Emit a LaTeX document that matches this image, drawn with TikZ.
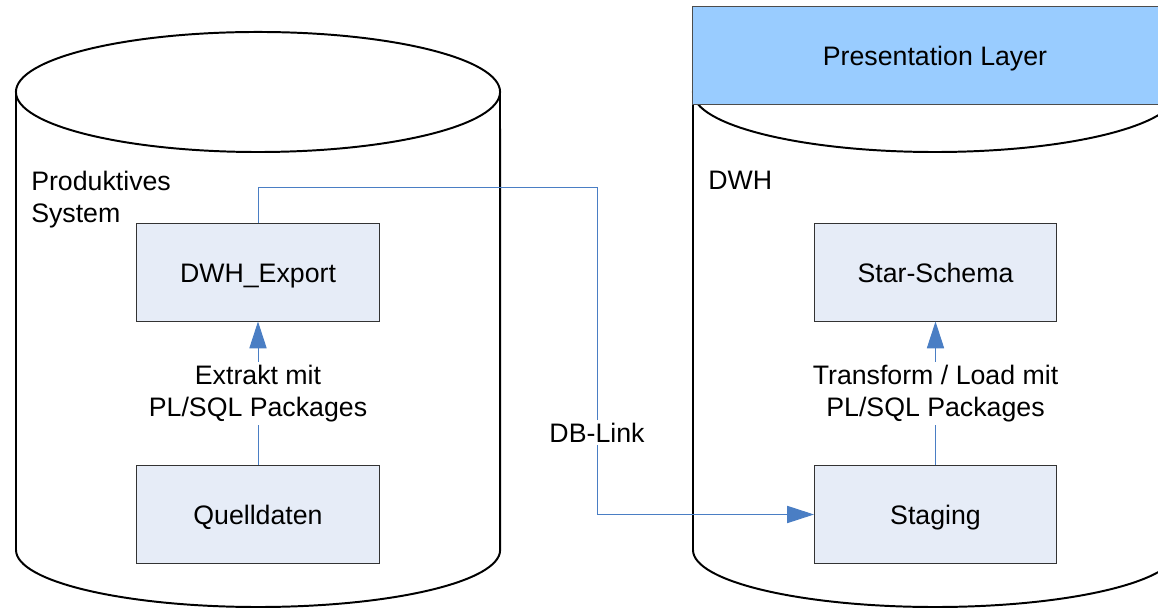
\documentclass[tikz,border=0pt]{standalone}
\usepackage{fontspec}
\setmainfont{Liberation Sans}
\usepackage{xcolor}
\usepackage{tikz}
\usetikzlibrary{arrows.meta}

\definecolor{boxfill}{RGB}{230,236,247}
\definecolor{layerfill}{RGB}{153,204,255}
\definecolor{linkblue}{RGB}{74,126,196}

\begin{document}
\begin{tikzpicture}[
    x=0.025cm, y=0.025cm,
    font=\fontsize{19}{22.8}\selectfont,
    drum/.style={draw=black, line width=1.4pt, fill=white},
    box/.style={rectangle, draw=black!80, line width=0.7pt, fill=boxfill, minimum width=6.05cm, minimum height=2.425cm, inner sep=0pt, text height=13.6pt, text depth=0pt},
    layer/.style={rectangle, draw=black!70, line width=0.7pt, fill=layerfill, minimum width=12.1cm, minimum height=2.425cm, inner sep=0pt, text height=13.6pt, text depth=0pt},
    arrow/.style={-{Triangle[length=6.7mm, width=4.3mm]}, linkblue, line width=0.7pt},
    lbl/.style={fill=white, inner sep=2pt, align=center, text=black},
    title/.style={align=left, inner sep=0pt}
  ]
    \useasboundingbox (0,0) rectangle (1158,610);
    \clip (0,0) rectangle (1158,610);

    % --- PRODUCTIVE SYSTEM ---
    \draw[drum] (16,518) -- (16,60) arc[start angle=180, end angle=360, x radius=6.05cm, y radius=1.425cm] -- (500,518);
    \draw[drum] (258,518) ellipse[x radius=6.05cm, y radius=1.5cm];
    \node[title, anchor=north west] (prodlbl) at (31,439) {Produktives\\ System};

    \node[box] (export) at (258,337.5) {DWH\_Export};
    \node[box] (quell) at (258,95.5) {Quelldaten};

    \draw[arrow] (quell) -- node[lbl] {Extrakt mit\\ PL/SQL Packages} (export);

    % --- DATA WAREHOUSE ---
    \draw[drum] (693,518) -- (693,60) arc[start angle=180, end angle=360, x radius=6.05cm, y radius=1.425cm] -- (1177,518);
    \draw[drum] (935,518) ellipse[x radius=6.05cm, y radius=1.5cm];
    \node[layer] (present) at (935,554.5) {Presentation Layer};
    \node[title, anchor=base west] (dwhlbl) at (708,420) {DWH};

    \node[box] (star) at (935.5,337.5) {Star-Schema};
    \node[box] (staging) at (935.5,95.5) {Staging};

    \draw[arrow] (staging) -- node[lbl] {Transform / Load mit\\ PL/SQL Packages} (star);

    % --- DB LINK BETWEEN THE TWO ---
    \coordinate (linktop) at (597,422);
    \draw[arrow] (export.north) |- (linktop) |- node[lbl, pos=0.375] {DB-Link} (staging.west);
  \end{tikzpicture}
\end{document}
